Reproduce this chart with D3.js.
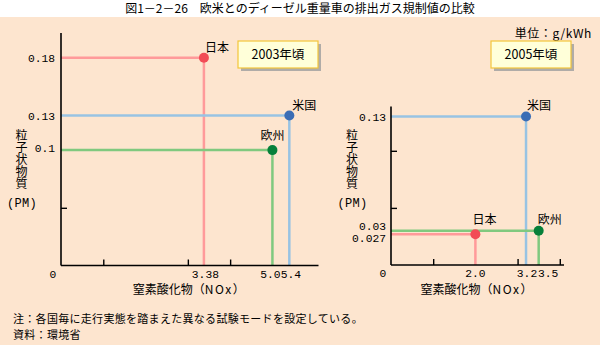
<!DOCTYPE html>
<html><head><meta charset="utf-8">
<script src="https://cdn.jsdelivr.net/npm/d3@7"></script>
<style>
html,body{margin:0;padding:0;background:#fff;}
svg{display:block;font-family:"Noto Sans CJK JP","Noto Sans",sans-serif;}
.num{font-family:"Liberation Mono","DejaVu Sans Mono",monospace;}
.vert{writing-mode:vertical-rl;text-orientation:upright;}
</style></head>
<body>
<script>
// ---- data ----
const titleText = "図1－2－26　欧米とのディーゼル重量車の排出ガス規制値の比較";
const unitText = "単位：g/kWh";
const panelLabels = ["2003年頃", "2005年頃"];
const regions = ["日本", "米国", "欧州"];
const nox2003 = [3.38, 5.4, 5.0];
const pm2003 = [0.18, 0.13, 0.1];
const nox2005 = [2.0, 3.2, 3.5];
const pm2005 = [0.027, 0.13, 0.03];
const xTicks2003 = [1, 3, 4];
const xTicks2005 = [1, 3, 4];
const yTicks2003 = [0.05];
const yTicks2005 = [0.05, 0.1];
const xTickLabels2003 = ["3.38", "5.0", "5.4"];
const xTickLabels2005 = ["2.0", "3.2", "3.5"];
const yTickLabels2003 = ["0.18", "0.13", "0.1"];
const yTickLabels2005 = ["0.13", "0.03", "0.027"];
const yTitle = "粒子状物質";
const yTitleUnit = "(PM)";
const xTitleJa = "窒素酸化物";
const xTitleEn = "NOx";
const notes = ["注：各国毎に走行実態を踏まえた異なる試験モードを設定している。", "資料：環境省"];

// ---- style ----
const lineColors = ["#ff9a9a", "#98c3e3", "#80c97f"];
const dotColors = ["#f24c56", "#3b6db5", "#06803a"];
const W = 600, H = 345;

const svg = d3.select("body").append("svg").attr("width", W).attr("height", H);
svg.append("rect").attr("x", 0).attr("y", 17).attr("width", W).attr("height", H - 17).attr("fill", "#fde5cf");
svg.append("text").attr("x", 300).attr("y", 12.5).attr("text-anchor", "middle")
  .attr("font-size", 12).attr("fill", "#000").text(titleText);
svg.append("text").attr("x", 592).attr("y", 37.5).attr("text-anchor", "end")
  .attr("font-size", 12).attr("letter-spacing", 0.6).text(unitText);

const panels = [
  { nox: nox2003, pm: pm2003, xT: xTicks2003, yT: yTicks2003, xL: xTickLabels2003, yL: yTickLabels2003,
    xr: [61, 318.5], xd: [0, 6.09], yr: [265.5, 33], yd: [0, 0.2015], label: panelLabels[0],
    box: [238, 41], ytx: 21.5, ylx: 55,
    xLabelDx: [1.5, -2, 1.5], yLabelPos: [null, null, -2],
    ptLabel: [[1, -6, "start"], [3, -6, "start"], [0, -10, "middle"]] },
  { nox: nox2005, pm: pm2005, xT: xTicks2005, yT: yTicks2005, xL: xTickLabels2005, yL: yTickLabels2005,
    xr: [391, 564], xd: [0, 4.1], yr: [265, 106.5], yd: [0, 0.1388], label: panelLabels[1],
    box: [491, 41], ytx: 352, ylx: 386,
    xLabelDx: [0, 1, 9.5], yLabelPos: [null, 225.5, 237.8],
    ptLabel: [[9, -10, "middle"], [1, -7, "start"], [-1, -7, "start"]] }
];

panels.forEach(p => {
  const x = d3.scaleLinear().domain(p.xd).range(p.xr);
  const y = d3.scaleLinear().domain(p.yd).range(p.yr);
  const g = svg.append("g");

  // guide lines
  regions.forEach((r, i) => {
    g.append("line").attr("x1", x(0)).attr("x2", x(p.nox[i])).attr("y1", y(p.pm[i])).attr("y2", y(p.pm[i]))
      .attr("stroke", lineColors[i]).attr("stroke-width", 2.5);
    g.append("line").attr("x1", x(p.nox[i])).attr("x2", x(p.nox[i])).attr("y1", y(0)).attr("y2", y(p.pm[i]))
      .attr("stroke", lineColors[i]).attr("stroke-width", 2.5);
  });

  // axes
  const xAxis = d3.axisTop(x).tickValues(p.xT).tickSize(6).tickFormat("");
  const ax = g.append("g").attr("transform", `translate(0,${y(0)})`).call(xAxis);
  const yAxis = d3.axisRight(y).tickValues(p.yT).tickSize(6).tickFormat("");
  const ay = g.append("g").attr("transform", `translate(${x(0)},0)`).call(yAxis);
  [ax, ay].forEach(a => {
    a.select(".domain").attr("stroke", "#000").attr("stroke-width", 1.6);
    a.selectAll(".tick line").attr("stroke", "#000").attr("stroke-width", 1.4);
  });
  ax.select(".domain").attr("d", `M${p.xr[0]},0H${p.xr[1]}`);
  ay.select(".domain").attr("d", `M0,${p.yr[0]}V${p.yr[1]}`);

  // tick labels
  g.append("text").attr("class", "num").attr("x", x(0) - 8).attr("y", y(0) + 12).attr("text-anchor", "middle")
    .attr("font-size", 11.3).text("0");
  const xOrder = [0, 1, 2].sort((a, b) => p.nox[a] - p.nox[b]);
  p.xL.forEach((t, i) => {
    g.append("text").attr("class", "num").attr("x", x(p.nox[xOrder[i]]) + p.xLabelDx[i])
      .attr("y", y(0) + 12).attr("text-anchor", "middle").attr("font-size", 11.3).text(t);
  });
  const yOrder = [0, 1, 2].sort((a, b) => p.pm[b] - p.pm[a]);
  p.yL.forEach((t, i) => {
    const cy = p.yLabelPos[i] === null ? y(p.pm[yOrder[i]]) : (p.yLabelPos[i] < 0 ? y(p.pm[yOrder[i]]) + p.yLabelPos[i] : p.yLabelPos[i]);
    g.append("text").attr("class", "num").attr("x", p.ylx).attr("y", cy + 4)
      .attr("text-anchor", "end").attr("font-size", 11.3).text(t);
  });

  // dots and labels
  regions.forEach((r, i) => {
    g.append("circle").attr("cx", x(p.nox[i])).attr("cy", y(p.pm[i])).attr("r", 5).attr("fill", dotColors[i]);
    const pl = p.ptLabel[i];
    g.append("text").attr("x", x(p.nox[i]) + pl[0]).attr("y", y(p.pm[i]) + pl[1]).attr("text-anchor", pl[2])
      .attr("font-size", 12).text(r);
  });

  // y title (vertical)
  g.append("text").attr("class", "vert").attr("x", p.ytx).attr("y", 129)
    .attr("font-size", 12).attr("letter-spacing", 0.2).text(yTitle);
  g.append("text").attr("class", "num").attr("x", p.ytx + 0.5).attr("y", 206.5).attr("text-anchor", "middle")
    .attr("font-size", 12).attr("letter-spacing", 0.3).text(yTitleUnit);

  // x title
  const xt = g.append("text").attr("x", (p.xr[0] + p.xr[1]) / 2 - 1).attr("y", 293.5).attr("text-anchor", "middle")
    .attr("font-size", 12);
  xt.append("tspan").text(xTitleJa + "（");
  xt.append("tspan").attr("letter-spacing", 1.5).text(xTitleEn);
  xt.append("tspan").text("）");

  // panel label box
  const [bx, by] = p.box;
  g.append("rect").attr("x", bx + 3).attr("y", by + 3).attr("width", 80).attr("height", 27).attr("fill", "#b0aca8");
  g.append("rect").attr("x", bx).attr("y", by).attr("width", 80).attr("height", 27)
    .attr("fill", "#ffffd9").attr("stroke", "#f4c53a").attr("stroke-width", 1.2);
  g.append("text").attr("x", bx + 40).attr("y", by + 18).attr("text-anchor", "middle")
    .attr("font-size", 12.5).text(p.label);
});

notes.forEach((n, i) => {
  svg.append("text").attr("x", 13).attr("y", 323 + i * 16.3).attr("font-size", 11).attr("letter-spacing", 0.3).text(n);
});
</script>
</body></html>
